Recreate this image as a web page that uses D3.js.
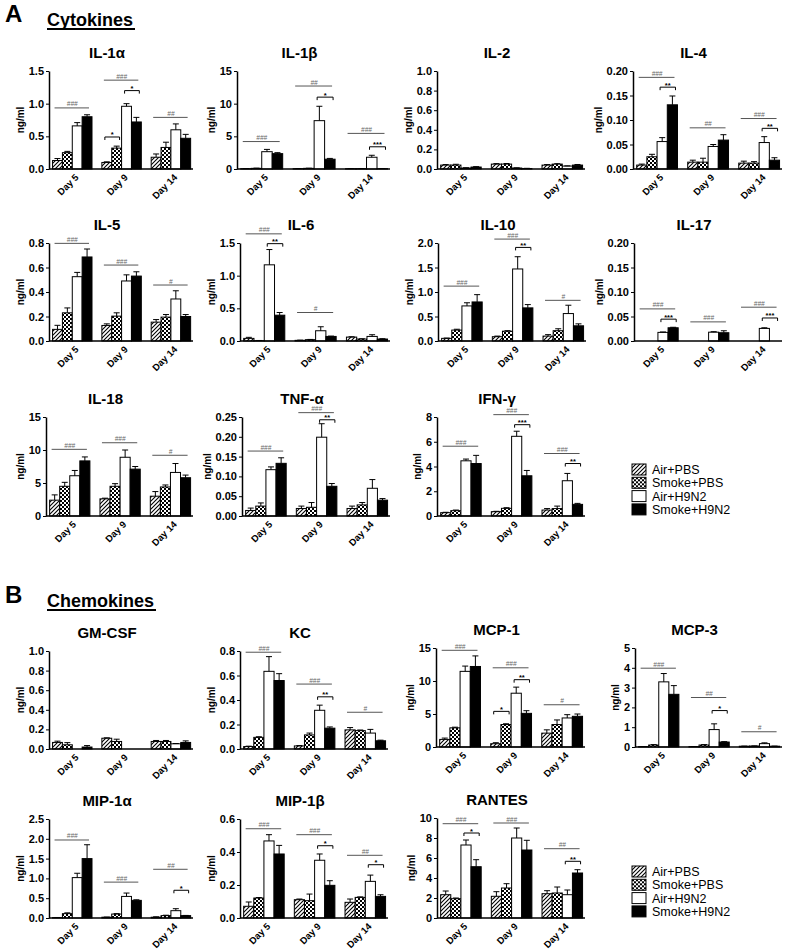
<!DOCTYPE html>
<html>
<head>
<meta charset="utf-8">
<script src="https://cdn.jsdelivr.net/npm/d3@7/dist/d3.min.js"></script>
<style>
body { margin: 0; background: #fff; }
svg { font-family: "Liberation Sans", Arial, sans-serif; }
</style>
</head>
<body>
<script>
var width = 787, height = 950

var days = ["Day 5", "Day 9", "Day 14"]
var groups = ["Air+PBS", "Smoke+PBS", "Air+H9N2", "Smoke+H9N2"]

// each array: one row per day, [Air+PBS, Smoke+PBS, Air+H9N2, Smoke+H9N2] in ng/ml, then SEM
var il1a = [[0.13, 0.25, 0.66, 0.80], [0.10, 0.32, 0.96, 0.72], [0.18, 0.33, 0.60, 0.47]]
var il1aErr = [[0.03, 0.02, 0.05, 0.03], [0.01, 0.03, 0.04, 0.07], [0.05, 0.08, 0.09, 0.06]]
var il1b = [[0.05, 0.1, 2.65, 2.35], [0.05, 0.1, 7.4, 1.5], [0.05, 0.05, 1.8, 0.05]]
var il1bErr = [[0.02, 0.03, 0.35, 0.15], [0.02, 0.02, 2.2, 0.12], [0.02, 0.02, 0.3, 0.02]]
var il2 = [[0.04, 0.04, 0.01, 0.02], [0.05, 0.05, 0.01, 0.005], [0.04, 0.05, 0.03, 0.04]]
var il2Err = [[0.005, 0.008, 0.003, 0.004], [0.005, 0.006, 0.002, 0.002], [0.005, 0.004, 0.002, 0.006]]
var il4 = [[0.008, 0.025, 0.056, 0.131], [0.014, 0.014, 0.046, 0.059], [0.012, 0.012, 0.054, 0.018]]
var il4Err = [[0.002, 0.005, 0.008, 0.018], [0.004, 0.008, 0.004, 0.011], [0.004, 0.003, 0.012, 0.005]]
var il5 = [[0.095, 0.23, 0.525, 0.686], [0.127, 0.203, 0.49, 0.53], [0.154, 0.195, 0.343, 0.2]]
var il5Err = [[0.033, 0.04, 0.035, 0.065], [0.013, 0.027, 0.05, 0.035], [0.021, 0.021, 0.067, 0.016]]
var il6 = [[0.04, 0.005, 1.166, 0.395], [0.01, 0.02, 0.157, 0.07], [0.06, 0.03, 0.07, 0.03]]
var il6Err = [[0.016, 0.003, 0.234, 0.041], [0.003, 0.004, 0.061, 0.005], [0.005, 0.004, 0.026, 0.005]]
var il10 = [[0.054, 0.223, 0.716, 0.797], [0.088, 0.2, 1.47, 0.676], [0.1, 0.21, 0.56, 0.31]]
var il10Err = [[0.006, 0.017, 0.064, 0.149], [0.012, 0.01, 0.25, 0.067], [0.03, 0.04, 0.17, 0.04]]
var il17 = [[0, 0, 0.0176, 0.027], [0, 0, 0.018, 0.0169], [0, 0, 0.0257, 0]]
var il17Err = [[0, 0, 0.0008, 0.001], [0, 0, 0.001, 0.004], [0, 0, 0.0013, 0]]
var il18 = [[2.4, 4.5, 6.1, 8.35], [2.6, 4.5, 8.9, 7.1], [3.0, 4.4, 6.6, 5.8]]
var il18Err = [[0.8, 0.6, 0.8, 0.6], [0.1, 0.4, 1.1, 0.4], [0.7, 0.3, 1.35, 0.4]]
var tnfa = [[0.014, 0.025, 0.117, 0.133], [0.019, 0.022, 0.199, 0.075], [0.019, 0.028, 0.07, 0.04]]
var tnfaErr = [[0.006, 0.008, 0.007, 0.014], [0.006, 0.012, 0.034, 0.007], [0.006, 0.006, 0.022, 0.004]]
var ifng = [[0.27, 0.43, 4.46, 4.24], [0.35, 0.62, 6.44, 3.25], [0.48, 0.6, 2.85, 0.94]]
var ifngErr = [[0.03, 0.05, 0.14, 0.66], [0.03, 0.05, 0.41, 0.43], [0.12, 0.2, 0.59, 0.08]]
var gmcsf = [[0.067, 0.043, 0, 0.02], [0.11, 0.077, 0, 0], [0.077, 0.077, 0.053, 0.067]]
var gmcsfErr = [[0.013, 0.022, 0, 0.015], [0.004, 0.023, 0, 0], [0.01, 0.01, 0.003, 0.016]]
var kc = [[0.02, 0.095, 0.634, 0.559], [0.025, 0.115, 0.316, 0.17], [0.156, 0.15, 0.13, 0.067]]
var kcErr = [[0.003, 0.005, 0.12, 0.056], [0.003, 0.015, 0.042, 0.01], [0.019, 0.005, 0.03, 0.005]]
var mcp1 = [[1.15, 2.9, 11.46, 12.2], [0.5, 3.4, 8.15, 5.1], [2.1, 3.4, 4.4, 4.65]]
var mcp1Err = [[0.2, 0.1, 0.8, 1.6], [0.15, 0.12, 0.92, 0.4], [0.5, 0.7, 0.5, 0.35]]
var mcp3 = [[0.02, 0.1, 3.29, 2.66], [0.02, 0.1, 0.88, 0.25], [0.04, 0.05, 0.17, 0.04]]
var mcp3Err = [[0.005, 0.02, 0.42, 0.44], [0.005, 0.02, 0.29, 0.02], [0.005, 0.005, 0.04, 0.005]]
var mip1a = [[0.01, 0.11, 1.02, 1.5], [0.02, 0.1, 0.545, 0.445], [0.02, 0.06, 0.185, 0.06]]
var mip1aErr = [[0.003, 0.02, 0.11, 0.35], [0.003, 0.01, 0.085, 0.015], [0.01, 0.01, 0.05, 0.005]]
var mip1b = [[0.071, 0.121, 0.467, 0.388], [0.111, 0.105, 0.35, 0.198], [0.095, 0.125, 0.222, 0.131]]
var mip1bErr = [[0.026, 0.003, 0.038, 0.052], [0.004, 0.04, 0.038, 0.028], [0.02, 0.003, 0.038, 0.01]]
var rantes = [[2.33, 1.93, 7.3, 5.13], [2.17, 3.0, 8.0, 6.8], [2.43, 2.5, 2.33, 4.5]]
var rantesErr = [[0.37, 0.07, 0.5, 0.7], [0.46, 0.43, 1.0, 0.97], [0.3, 0.6, 0.47, 0.33]]

// significance marks: [day, "all" or [bar a, bar b], height in ng/ml, label]
var il1aSig = [[0, "all", 0.935, "###"], [1, "all", 1.36, "###"], [1, [0, 1], 0.49, "*"], [1, [2, 3], 1.2, "*"], [2, "all", 0.79, "##"]]
var il1bSig = [[0, "all", 4.2, "###"], [1, "all", 12.7, "##"], [1, [2, 3], 11.0, "*"], [2, "all", 5.45, "###"], [2, [2, 3], 3.4, "***"]]
var il4Sig = [[0, "all", 0.187, "###"], [0, [2, 3], 0.167, "**"], [1, "all", 0.084, "##"], [2, "all", 0.103, "###"], [2, [2, 3], 0.083, "**"]]
var il5Sig = [[0, "all", 0.797, "###"], [1, "all", 0.62, "###"], [2, "all", 0.457, "#"]]
var il6Sig = [[0, "all", 1.64, "###"], [0, [2, 3], 1.49, "**"], [1, "all", 0.436, "#"]]
var il10Sig = [[0, "all", 1.12, "###"], [1, "all", 2.08, "###"], [1, [2, 3], 1.91, "**"], [2, "all", 0.83, "#"]]
var il17Sig = [[0, "all", 0.0655, "###"], [0, [2, 3], 0.0446, "***"], [1, "all", 0.039, "###"], [2, "all", 0.069, "###"], [2, [2, 3], 0.047, "***"]]
var il18Sig = [[0, "all", 10.1, "###"], [1, "all", 11.1, "###"], [2, "all", 9.2, "#"]]
var tnfaSig = [[0, "all", 0.164, "###"], [1, "all", 0.261, "###"], [1, [2, 3], 0.243, "**"]]
var ifngSig = [[0, "all", 5.64, "###"], [1, "all", 8.19, "###"], [1, [2, 3], 7.38, "***"], [2, "all", 5.05, "###"], [2, [2, 3], 4.24, "**"]]
var kcSig = [[0, "all", 0.79, "###"], [1, "all", 0.53, "###"], [1, [2, 3], 0.426, "**"], [2, "all", 0.30, "#"]]
var mcp1Sig = [[0, "all", 14.65, "###"], [1, "all", 12.0, "###"], [1, [2, 3], 10.2, "**"], [1, [0, 1], 5.4, "*"], [2, "all", 6.4, "#"]]
var mcp3Sig = [[0, "all", 3.98, "###"], [1, "all", 2.5, "##"], [1, [2, 3], 1.84, "*"], [2, "all", 0.77, "#"]]
var mip1aSig = [[0, "all", 1.97, "###"], [1, "all", 0.906, "###"], [2, "all", 1.23, "##"], [2, [2, 3], 0.7, "*"]]
var mip1bSig = [[0, "all", 0.541, "###"], [1, "all", 0.505, "###"], [1, [2, 3], 0.438, "*"], [2, "all", 0.38, "##"], [2, [2, 3], 0.323, "*"]]
var rantesSig = [[0, "all", 9.43, "###"], [0, [2, 3], 8.5, "*"], [1, "all", 9.5, "###"], [2, "all", 6.93, "##"], [2, [2, 3], 5.67, "**"]]

// y axis: max, tick step, decimals
var panels = [
  {name: "IL-1α", v: il1a, e: il1aErr, s: il1aSig, max: 1.5, step: 0.5, dec: 1},
  {name: "IL-1β", v: il1b, e: il1bErr, s: il1bSig, max: 15, step: 5, dec: 0},
  {name: "IL-2", v: il2, e: il2Err, s: [], max: 1.0, step: 0.2, dec: 1},
  {name: "IL-4", v: il4, e: il4Err, s: il4Sig, max: 0.20, step: 0.05, dec: 2},
  {name: "IL-5", v: il5, e: il5Err, s: il5Sig, max: 0.8, step: 0.2, dec: 1},
  {name: "IL-6", v: il6, e: il6Err, s: il6Sig, max: 1.5, step: 0.5, dec: 1},
  {name: "IL-10", v: il10, e: il10Err, s: il10Sig, max: 2.0, step: 0.5, dec: 1},
  {name: "IL-17", v: il17, e: il17Err, s: il17Sig, max: 0.20, step: 0.05, dec: 2},
  {name: "IL-18", v: il18, e: il18Err, s: il18Sig, max: 15, step: 5, dec: 0},
  {name: "TNF-α", v: tnfa, e: tnfaErr, s: tnfaSig, max: 0.25, step: 0.05, dec: 2},
  {name: "IFN-γ", v: ifng, e: ifngErr, s: ifngSig, max: 8, step: 2, dec: 0},
  {name: "GM-CSF", v: gmcsf, e: gmcsfErr, s: [], max: 1.0, step: 0.2, dec: 1},
  {name: "KC", v: kc, e: kcErr, s: kcSig, max: 0.8, step: 0.2, dec: 1},
  {name: "MCP-1", v: mcp1, e: mcp1Err, s: mcp1Sig, max: 15, step: 5, dec: 0},
  {name: "MCP-3", v: mcp3, e: mcp3Err, s: mcp3Sig, max: 5, step: 1, dec: 0},
  {name: "MIP-1α", v: mip1a, e: mip1aErr, s: mip1aSig, max: 2.5, step: 0.5, dec: 1},
  {name: "MIP-1β", v: mip1b, e: mip1bErr, s: mip1bSig, max: 0.6, step: 0.2, dec: 1},
  {name: "RANTES", v: rantes, e: rantesErr, s: rantesSig, max: 10, step: 2, dec: 0}
]

// plot boxes: [x left, x right, y top, y bottom]
var layout = [
  [49, 193, 71, 169], [237, 390, 71, 169], [437, 585, 71, 169], [633, 782, 71, 169],
  [49, 193, 243, 341], [240, 390, 243, 341], [438, 586, 243, 341], [634, 782, 243, 341],
  [46, 193, 417, 516], [242, 390, 417, 516], [437, 585, 417, 516],
  [49, 193, 651, 749], [240, 388, 651, 749], [436, 585, 648, 747], [635, 782, 648, 747],
  [49, 193, 819, 918], [240, 388, 819, 918], [437, 585, 818, 918]
]

var svg = d3.select("body").append("svg")
  .attr("width", width)
  .attr("height", height)

//fill patterns for the PBS groups
var defs = svg.append("defs")
var hatch = defs.append("pattern").attr("id", "hatch")
  .attr("patternUnits", "userSpaceOnUse").attr("width", 4).attr("height", 4)
hatch.append("rect").attr("width", 4).attr("height", 4).attr("fill", "#fff")
hatch.append("path").attr("d", "M-1,1 l2,-2 M0,4 l4,-4 M3,5 l2,-2")
  .attr("stroke", "#000").attr("stroke-width", 1.1)
var checker = defs.append("pattern").attr("id", "checker")
  .attr("patternUnits", "userSpaceOnUse").attr("width", 4).attr("height", 4)
checker.append("rect").attr("width", 4).attr("height", 4).attr("fill", "#fff")
checker.append("path").attr("d", "M0,0h2v2h-2z M2,2h2v2h-2z").attr("fill", "#000")

var fills = ["url(#hatch)", "url(#checker)", "#fff", "#000"]

// section headings
function heading(letter, word, y, uw) {
  svg.append("text").attr("x", 5).attr("y", y)
    .attr("font-size", 24).attr("font-weight", "bold").text(letter)
  svg.append("text").attr("x", 47).attr("y", y + 4)
    .attr("font-size", 18).attr("font-weight", "bold").text(word)
  svg.append("line").attr("x1", 47).attr("x2", 47 + uw)
    .attr("y1", y + 7).attr("y2", y + 7)
    .attr("stroke", "#000").attr("stroke-width", 1.8)
}
heading("A", "Cytokines", 22, 88)
heading("B", "Chemokines", 603, 109)

panels.forEach(function(p, i) {
  var L = layout[i]
  var x0 = L[0], x1 = L[1], top = L[2], bot = L[3]

  var y = d3.scaleLinear().domain([0, p.max]).range([bot, top])
  var x = d3.scaleBand().domain([0, 1, 2]).range([x0, x1])
    .paddingInner(0.2).paddingOuter(0.06).align(0.6)
  var sub = d3.scaleBand().domain([0, 1, 2, 3]).range([0, x.bandwidth()])
  var bw = sub.bandwidth()

  var g = svg.append("g")

  //flatten day x group
  var bars = []
  p.v.forEach(function(row, di) {
    row.forEach(function(val, gi) {
      bars.push({day: di, grp: gi, val: val, err: p.e[di][gi]})
    })
  })

  g.selectAll("rect.bar")
    .data(bars.filter(function(d) { return d.val > 0 }))
    .enter().append("rect")
    .attr("class", "bar")
    .attr("x", function(d) { return x(d.day) + sub(d.grp) })
    .attr("y", function(d) { return y(d.val) })
    .attr("width", bw)
    .attr("height", function(d) { return bot - y(d.val) })
    .attr("fill", function(d) { return fills[d.grp] })
    .attr("stroke", "#000")
    .attr("stroke-width", 1)

  //error bars, upper half only
  var eb = g.selectAll("g.err")
    .data(bars.filter(function(d) { return d.err > 0 }))
    .enter().append("g").attr("class", "err")
  eb.append("line")
    .attr("x1", function(d) { return x(d.day) + sub(d.grp) + bw / 2 })
    .attr("x2", function(d) { return x(d.day) + sub(d.grp) + bw / 2 })
    .attr("y1", function(d) { return y(d.val) })
    .attr("y2", function(d) { return y(d.val + d.err) })
    .attr("stroke", "#000")
  eb.append("line")
    .attr("x1", function(d) { return x(d.day) + sub(d.grp) + bw / 2 - 3 })
    .attr("x2", function(d) { return x(d.day) + sub(d.grp) + bw / 2 + 3 })
    .attr("y1", function(d) { return y(d.val + d.err) })
    .attr("y2", function(d) { return y(d.val + d.err) })
    .attr("stroke", "#000")

  // axes
  var ticks = d3.range(0, p.max + p.step / 2, p.step)
  var ay = g.append("g")
    .attr("transform", "translate(" + x0 + ",0)")
    .call(d3.axisLeft(y).tickValues(ticks).tickFormat(d3.format("." + p.dec + "f"))
      .tickSize(3).tickSizeOuter(0).tickPadding(2))
  ay.select(".domain").attr("stroke-width", 1.5)
  ay.selectAll("text").attr("font-size", 11).attr("font-weight", "bold")
    .attr("font-family", "Liberation Sans, Arial, sans-serif").attr("fill", "#000")

  g.append("line")
    .attr("x1", x0).attr("x2", x1).attr("y1", bot).attr("y2", bot)
    .attr("stroke", "#000").attr("stroke-width", 1.5)

  g.selectAll("text.day")
    .data(days)
    .enter().append("text")
    .attr("class", "day")
    .attr("text-anchor", "end")
    .attr("font-size", 9.5)
    .attr("font-weight", "bold")
    .attr("transform", function(d, k) {
      return "translate(" + (x(k) + x.bandwidth() / 2 + 7) + "," + (bot + 9) + ") rotate(-45)"
    })
    .text(function(d) { return d })

  var bb = ay.node().getBBox()
  g.append("text")
    .attr("text-anchor", "middle")
    .attr("font-size", 10)
    .attr("font-weight", "bold")
    .attr("transform", "translate(" + (x0 + bb.x - 5) + "," + ((top + bot) / 2) + ") rotate(-90)")
    .text("ng/ml")

  g.append("text")
    .attr("x", (x0 + x1) / 2 - 14)
    .attr("y", top - 13)
    .attr("text-anchor", "middle")
    .attr("font-size", 15)
    .attr("font-weight", "bold")
    .text(p.name)

  //significance lines (#) and brackets (*)
  p.s.forEach(function(s) {
    var gx = x(s[0]), yy = y(s[2])
    if (s[1] === "all") {
      g.append("line")
        .attr("x1", gx + 2).attr("x2", gx + x.bandwidth() - 3)
        .attr("y1", yy).attr("y2", yy)
        .attr("stroke", "#555").attr("stroke-width", 1)
      g.append("text")
        .attr("x", gx + x.bandwidth() / 2).attr("y", yy - 1.5)
        .attr("text-anchor", "middle").attr("font-size", 6.5)
        .attr("font-style", "italic").attr("fill", "#666")
        .text(s[3])
    } else {
      var xa = gx + sub(s[1][0]) + 3, xb = gx + sub(s[1][1]) + bw - 2
      g.append("path")
        .attr("d", "M" + xa + "," + (yy + 3) + "V" + yy + "H" + xb + "V" + (yy + 3))
        .attr("fill", "none").attr("stroke", "#000").attr("stroke-width", 1)
      g.append("text")
        .attr("x", (xa + xb) / 2).attr("y", yy + 0.5)
        .attr("text-anchor", "middle").attr("font-size", 7.5)
        .attr("font-weight", "bold")
        .text(s[3])
    }
  })
})

// legends
function legend(ly) {
  var lg = svg.append("g").attr("transform", "translate(632," + ly + ")")
  var item = lg.selectAll("g").data(groups).enter().append("g")
    .attr("transform", function(d, k) { return "translate(0," + k * 13.3 + ")" })
  item.append("rect")
    .attr("width", 14).attr("height", 11)
    .attr("fill", function(d, k) { return fills[k] })
    .attr("stroke", "#000")
  item.append("text")
    .attr("x", 20).attr("y", 10)
    .attr("font-size", 12.5)
    .text(function(d) { return d })
}
legend(464)
legend(866)
</script>
</body>
</html>
